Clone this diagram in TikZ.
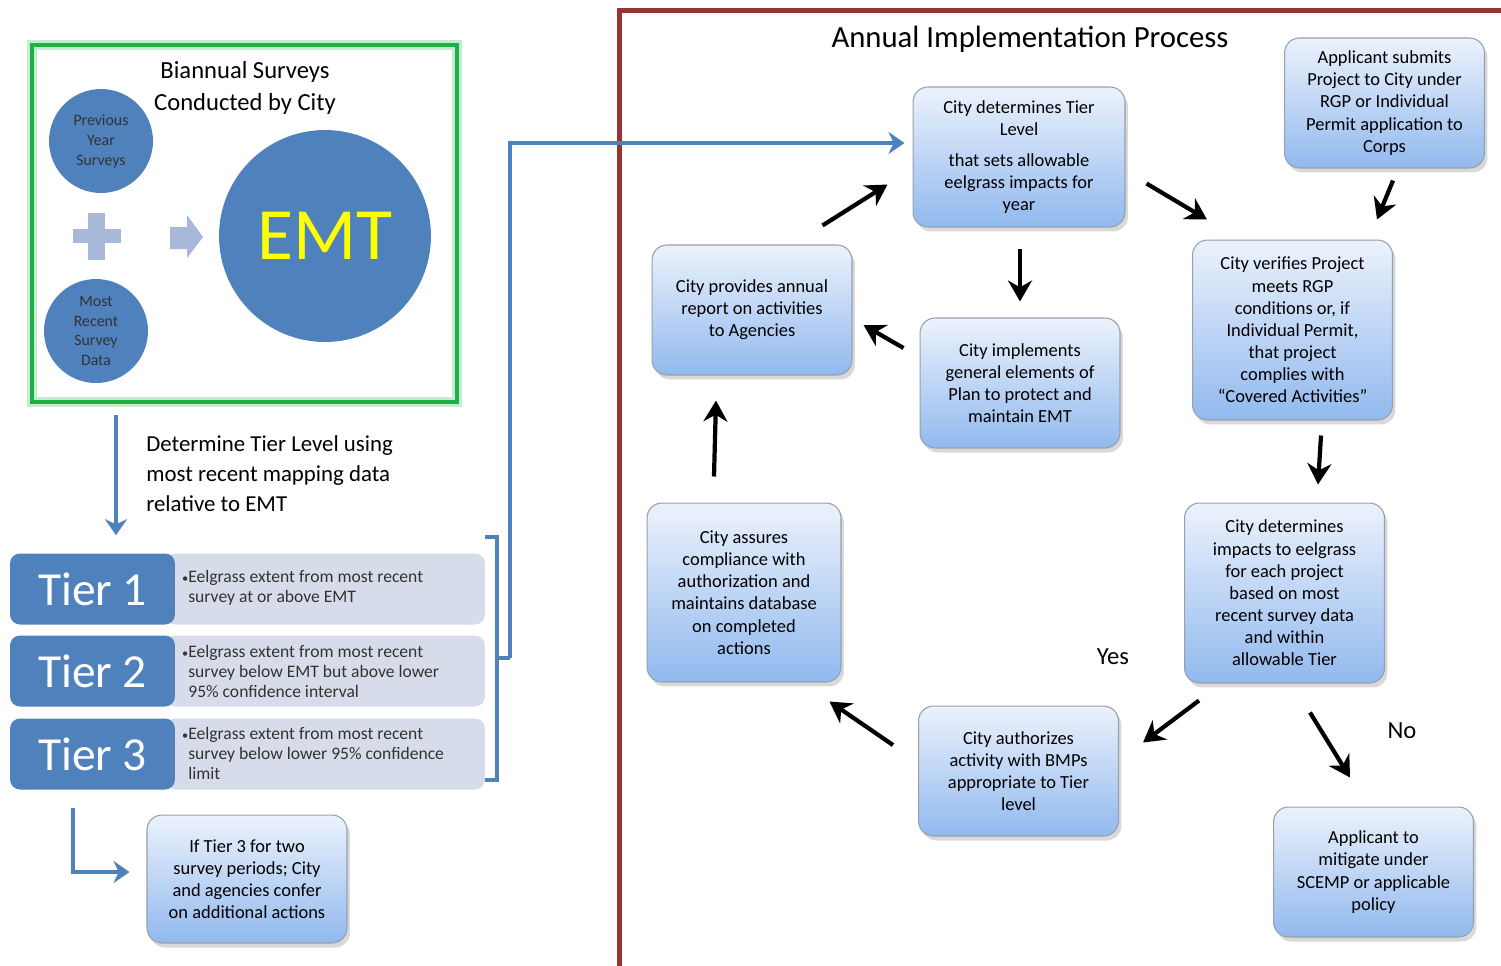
\documentclass[tikz,border=0pt]{standalone}
\usepackage{fontspec}
\setmainfont{Carlito}
\usetikzlibrary{arrows.meta,shadows,calc}

\definecolor{emtblue}{RGB}{79,129,189}
\definecolor{softblue}{RGB}{167,184,217}
\definecolor{tierback}{RGB}{214,220,233}
\definecolor{boxtop}{RGB}{236,242,252}
\definecolor{boxbottom}{RGB}{145,185,238}
\definecolor{boxedge}{RGB}{150,160,175}
\definecolor{framegreen}{RGB}{30,176,70}
\definecolor{framered}{RGB}{150,52,52}
\definecolor{emtyellow}{RGB}{255,255,0}

\begin{document}
\begin{tikzpicture}[
    x=0.02cm, y=-0.02cm,
    procbox/.style={draw=boxedge, line width=0.6pt, rounded corners=0.3cm, top color=boxtop, bottom color=boxbottom,
        minimum width=4cm, minimum height=2.6cm, align=center, inner sep=2pt, font=\fontsize{10.5}{12.6}\selectfont,
        drop shadow={shadow xshift=0.6mm, shadow yshift=-0.9mm, opacity=0.3}},
    survey/.style={circle, fill=emtblue, minimum size=2.08cm, inner sep=0pt, align=center, text=black!80, font=\fontsize{9}{11.3}\selectfont},
    tierlabel/.style={rounded corners=0.2cm, fill=emtblue, minimum width=3.3cm, minimum height=1.42cm, text=white, font=\fontsize{27}{30}\selectfont},
    tierdesc/.style={rounded corners=0.2cm, fill=tierback, minimum width=6.4cm, minimum height=1.42cm},
    tiertext/.style={anchor=west, align=left, inner sep=0pt, text=black!80, font=\fontsize{10}{11.4}\selectfont},
    heading/.style={align=center, font=\fontsize{14}{18.7}\selectfont},
    choice/.style={font=\fontsize{14}{16}\selectfont},
    flow/.style={-{Stealth[length=4.2mm,width=4.8mm]}, line width=2.4pt, black},
    link/.style={-{Stealth[length=3.2mm,width=4.4mm]}, line width=2.2pt, emtblue},
]
\useasboundingbox (0,0) rectangle (1501,965);

% Biannual surveys
\node[draw=framegreen!25, line width=0.2cm, minimum width=8.5cm, minimum height=7.14cm] (glow) at (244.5,223.5) {};
\node[draw=framegreen, line width=0.09cm, minimum width=8.5cm, minimum height=7.14cm] (frame) at (244.5,223.5) {};
\node[heading] (surveyhead) at (245,88) {Biannual Surveys\\Conducted by City};
\node[survey] (prevyr) at (101,141) {Previous\\Year\\Surveys};
\node[survey] (recent) at (96,331) {Most\\Recent\\Survey\\Data};
\node[survey, minimum size=4.24cm, text=emtyellow, font=\fontsize{42}{42}\selectfont] (emt) at (325,236) {EMT};
\fill[softblue] (73,229) rectangle (121,243);
\fill[softblue] (88,213) rectangle (105,260);
\fill[softblue] (170,227) -- (187,227) -- (187,215) -- (203,237) -- (187,258) -- (187,249) -- (170,249) -- cycle;

\node[anchor=west, align=left, inner sep=0pt, font=\fontsize{13}{17}\selectfont] (tiernote) at (146,474)
  {Determine Tier Level using\\most recent mapping data\\relative to EMT};

% Tier rows
\node[tierdesc] (desc1) at (325,589) {};
\node[tierdesc] (desc2) at (325,671) {};
\node[tierdesc] (desc3) at (325,754) {};
\node[tierlabel] (tier1) at (92.5,589) {Tier 1};
\node[tierlabel] (tier2) at (92.5,671) {Tier 2};
\node[tierlabel] (tier3) at (92.5,754) {Tier 3};
\node[tiertext] (text1) at (188,588) {\llap{\scriptsize\textbullet}Eelgrass extent from most recent\\survey at or above EMT};
\node[tiertext] (text2) at (188,671) {\llap{\scriptsize\textbullet}Eelgrass extent from most recent\\survey below EMT but above lower\\95\% confidence interval};
\node[tiertext] (text3) at (188,753) {\llap{\scriptsize\textbullet}Eelgrass extent from most recent\\survey below lower 95\% confidence\\limit};

\node[procbox, minimum height=2.56cm] (confer) at (247,879) {If Tier 3 for two\\survey periods; City\\and agencies confer\\on additional actions};

% Annual process frame
\draw[framered, line width=0.1cm] (619,975) -- (619,10) -- (1511,10);
\node[font=\fontsize{17.5}{20}\selectfont] (title) at (1030,39) {Annual Implementation Process};

\node[procbox, minimum width=4.24cm, minimum height=2.8cm] (tierlvl) at (1019,157)
  {City determines Tier\\Level\\[5pt]that sets allowable\\eelgrass impacts for\\year};
\node[procbox] (applicant) at (1384.5,103) {Applicant submits\\Project to City under\\RGP or Individual\\Permit application to\\Corps};
\node[procbox, minimum height=3.6cm] (verify) at (1292.5,330) {City verifies Project\\meets RGP\\conditions or, if\\Individual Permit,\\that project\\complies with\\``Covered Activities''};
\node[procbox] (report) at (752,310) {City provides annual\\report on activities\\to Agencies};
\node[procbox] (implement) at (1020,383) {City implements\\general elements of\\Plan to protect and\\maintain EMT};
\node[procbox, minimum width=3.88cm, minimum height=3.58cm] (assure) at (744,592.5) {City assures\\compliance with\\authorization and\\maintains database\\on completed\\actions};
\node[procbox, minimum height=3.6cm] (impacts) at (1284.5,593) {City determines\\impacts to eelgrass\\for each project\\based on most\\recent survey data\\and within\\allowable Tier};
\node[procbox] (authorize) at (1018.5,771) {City authorizes\\activity with BMPs\\appropriate to Tier\\level};
\node[procbox] (mitigate) at (1373.5,872) {Applicant to\\mitigate under\\SCEMP or applicable\\policy};

\node[choice] (yes) at (1113,657) {Yes};
\node[choice] (no) at (1402,731) {No};

% Blue connectors
\draw[link] ([shift={(-128.5,11)}]frame.south) -- ([shift={(23.5,-18)}]tier1.north);
\draw[emtblue, line width=2.2pt] (485,537) -- (497,537) -- (497,780) -- (485,780);
\coordinate (brmid) at (510,658);
\draw[emtblue, line width=2.2pt] (497,658) -- (brmid);
\draw[link] (brmid) |- ([shift={(-8,-14)}]tierlvl.west);
\draw[link] ([shift={(-19.5,18)}]tier3.south) |- ([shift={(-17,-7)}]confer.west);

% Process arrows
\draw[flow] ([shift={(-30,-19)}]report.north east) -- ([shift={(-25,-43)}]tierlvl.south west);
\draw[flow] ([shift={(21,-44)}]tierlvl.south east) -- ([shift={(15,-20)}]verify.north west);
\draw[flow] ([shift={(8.5,12)}]applicant.south) -- ([shift={(-16,-20)}]verify.north east);
\draw[flow] ([shift={(1,21)}]tierlvl.south) -- ([shift={(0,-16)}]implement.north);
\draw[flow] ([shift={(-16,-35)}]implement.west) -- ([shift={(11,15)}]report.east);
\draw[flow] ([shift={(28.5,15)}]verify.south) -- ([shift={(33.5,-18)}]impacts.north);
\draw[flow] ([shift={(15,17)}]impacts.south west) -- ([shift={(24,37)}]authorize.north east);
\draw[flow] ([shift={(25.5,29)}]impacts.south) -- ([shift={(-23.5,-29)}]mitigate.north);
\draw[flow] ([shift={(-25,-26)}]authorize.west) -- ([shift={(-12,19)}]assure.south east);
\draw[flow] ([shift={(-30,-26)}]assure.north) -- ([shift={(-36,25)}]report.south);

\end{tikzpicture}
\end{document}
